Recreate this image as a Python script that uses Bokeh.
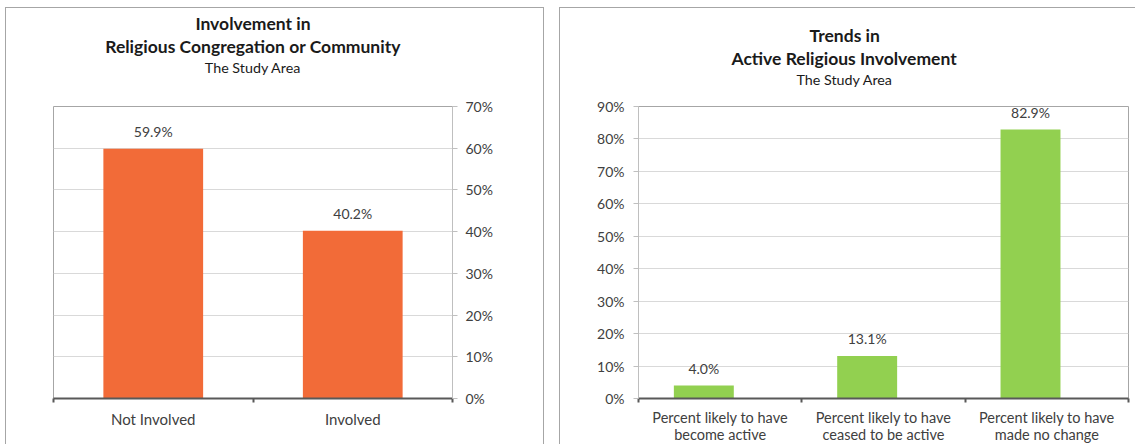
from bokeh.plotting import figure
from bokeh.layouts import row, column
from bokeh.models import FixedTicker, Title, PrintfTickFormatter, Spacer, Range1d, ColumnDataSource
from bokeh.core.properties import value
from bokeh.embed import file_html
from bokeh.resources import INLINE

# ---------------- data ----------------
left_title_lines = ["Involvement in", "Religious Congregation or Community"]
left_subtitle = "The Study Area"
left_categories = ["Not Involved", "Involved"]
left_values = [59.9, 40.2]
left_yticks = [0, 10, 20, 30, 40, 50, 60, 70]

right_title_lines = ["Trends in", "Active Religious Involvement"]
right_subtitle = "The Study Area"
right_categories = ["Percent likely to have\nbecome active",
                    "Percent likely to have\nceased to be active",
                    "Percent likely to have\nmade no change"]
right_values = [4.0, 13.1, 82.9]
right_yticks = [0, 10, 20, 30, 40, 50, 60, 70, 80, 90]

FONT = "Lato"
TEXT = "#404040"
BORDER = "#a6a6a6"


def make_panel(title_lines, subtitle, categories, values, yticks, color,
               bar_shift, bar_width, yaxis_loc, width, mb_left, mb_right,
               title_align, title_offsets, gap, ylabel_standoff, cat_font,
               cat_standoff, cat_lh, panel_styles):
    n = len(categories)
    p = figure(width=width, height=437, x_range=Range1d(0, n),
               y_range=Range1d(yticks[0], yticks[-1]),
               y_axis_location=yaxis_loc, output_backend="svg",
               toolbar_location=None, min_border_left=mb_left,
               min_border_right=mb_right, min_border_top=98,
               min_border_bottom=45)
    p.title = None
    p.styles = panel_styles
    p.background_fill_color = "white"
    p.border_fill_color = "white"
    p.outline_line_color = BORDER
    p.outline_line_width = 1

    # invisible spacer between frame and subtitle
    p.add_layout(Title(text=" ", text_font_size="1px", standoff=gap,
                       text_color="white"), "above")
    sub = Title(text=subtitle, align=title_align, text_font=FONT,
                text_font_size="14.3px", text_font_style="normal",
                text_color="#1a1a1a", offset=title_offsets[0], standoff=0)
    p.add_layout(sub, "above")
    for line, off in zip(reversed(title_lines), reversed(title_offsets[1:])):
        t = Title(text=line, align=title_align, text_font=FONT,
                  text_font_size="17.5px", text_font_style="bold",
                  text_color="#1a1a1a", offset=off, standoff=0)
        p.add_layout(t, "above")

    xs = [i + bar_shift for i in range(n)]
    src = ColumnDataSource(dict(x=xs, top=values,
                                label=[f"{v:.1f}%" for v in values]))
    p.vbar(x="x", top="top", width=bar_width, bottom=0, source=src,
           fill_color=color, line_color=None)
    p.text(x="x", y="top", text="label", source=src, text_align="center",
           text_baseline="middle", y_offset=-17, text_font=value(FONT),
           text_font_size="14px", text_color=TEXT)

    p.xgrid.grid_line_color = None
    p.ygrid.ticker = FixedTicker(ticks=yticks)
    p.ygrid.grid_line_color = "#d9d9d9"

    ya = p.yaxis[0]
    ya.ticker = FixedTicker(ticks=yticks)
    ya.formatter = PrintfTickFormatter(format="%d%%")
    ya.axis_line_color = "#bfbfbf"
    ya.axis_line_width = 1
    ya.major_tick_line_color = "#bfbfbf"
    ya.major_tick_in = 0
    ya.major_tick_out = 5
    ya.minor_tick_line_color = None
    ya.major_label_standoff = ylabel_standoff
    ya.major_label_text_font = FONT
    ya.major_label_text_font_size = "14px"
    ya.major_label_text_color = TEXT

    xa = p.xaxis[0]
    centers = [i + 0.5 for i in range(n)]
    xa.ticker = FixedTicker(ticks=centers, minor_ticks=list(range(n + 1)))
    xa.major_label_overrides = {c: lab for c, lab in zip(centers, categories)}
    xa.major_tick_line_color = None
    xa.minor_tick_line_color = "#595959"
    xa.minor_tick_in = 0
    xa.minor_tick_out = 4
    xa.minor_tick_line_width = 2
    xa.axis_line_color = "#595959"
    xa.axis_line_width = 2
    xa.major_label_standoff = cat_standoff
    xa.major_label_text_font = FONT
    xa.major_label_text_font_size = cat_font
    xa.major_label_text_line_height = cat_lh
    xa.major_label_text_color = TEXT
    return p


left = make_panel(left_title_lines, left_subtitle, left_categories,
                  left_values, left_yticks, "#F26B38", 0.5, 0.5, "right",
                  539, 47, 93, "center", [0, 0, 0], 28, 8, "15px", 5, 1.2,
                  {"border-top": f"1px solid {BORDER}",
                   "border-left": f"1px solid {BORDER}",
                   "border-right": f"1px solid {BORDER}"})
right = make_panel(right_title_lines, right_subtitle, right_categories,
                   right_values, right_yticks, "#92D050", 0.4, 0.367, "left",
                   576, 78, 8, "left", [158, 171, 93], 16, 9, "14.5px", 4, 1.0,
                   {"border-top": f"1px solid {BORDER}",
                    "border-left": f"1px solid {BORDER}"})

layout = column(Spacer(height=7),
                row(Spacer(width=5), left, Spacer(width=15), right))
open("out.html", "w").write(file_html(layout, INLINE))
